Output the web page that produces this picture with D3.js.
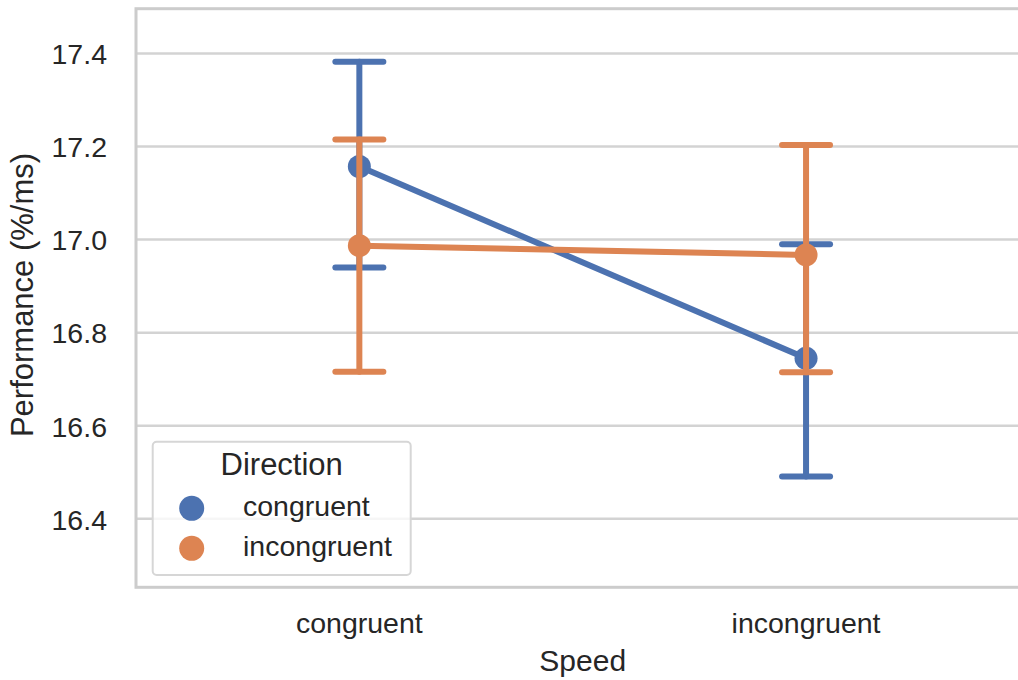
<!DOCTYPE html>
<html>
<head>
<meta charset="utf-8">
<script src="https://cdn.jsdelivr.net/npm/d3@7"></script>
<style>
  html, body { margin: 0; padding: 0; background: #fff; }
  svg { display: block; }
  text { font-family: "Liberation Sans", Arial, sans-serif; fill: #262626; }
</style>
</head>
<body>
<svg id="chart" width="1018" height="680"></svg>
<script>
// ---- data ----
const speedCategories = ["congruent", "incongruent"];
const directionLevels = ["congruent", "incongruent"];
const congruentMeans = [17.157, 16.745];
const congruentLow   = [16.940, 16.491];
const congruentHigh  = [17.382, 16.990];
const incongruentMeans = [16.987, 16.967];
const incongruentLow   = [16.716, 16.715];
const incongruentHigh  = [17.215, 17.203];
const yTickValues = [16.4, 16.6, 16.8, 17.0, 17.2, 17.4];
const yLimits = [16.253, 17.496];
const xLabel = "Speed";
const yLabel = "Performance (%/ms)";
const legendTitle = "Direction";
const palette = ["#4C72B0", "#DD8452"];

const series = [
  { name: directionLevels[0], means: congruentMeans, low: congruentLow, high: congruentHigh, color: palette[0] },
  { name: directionLevels[1], means: incongruentMeans, low: incongruentLow, high: incongruentHigh, color: palette[1] }
];

// ---- layout ----
const plot = { left: 136, top: 8.7, bottom: 587.3, right: 1029.4 };
const svg = d3.select("#chart");

const x = d3.scaleBand().domain(speedCategories).range([plot.left, plot.right]).padding(0);
const xc = c => x(c) + x.bandwidth() / 2;
const y = d3.scaleLinear().domain(yLimits).range([plot.bottom, plot.top]);

// grid
const gridG = svg.append("g");
gridG.selectAll("line").data(yTickValues).join("line")
  .attr("x1", plot.left).attr("x2", plot.right)
  .attr("y1", d => y(d)).attr("y2", d => y(d))
  .attr("stroke", "#d3d3d3").attr("stroke-width", 2.5);

// spines
svg.append("rect")
  .attr("x", plot.left).attr("y", plot.top)
  .attr("width", plot.right - plot.left).attr("height", plot.bottom - plot.top)
  .attr("fill", "none").attr("stroke", "#cccccc").attr("stroke-width", 3);

// y axis tick labels
const yAxis = d3.axisLeft(y).tickValues(yTickValues).tickSize(0).tickPadding(0).tickFormat(d3.format(".1f"));
const yAxisG = svg.append("g").attr("transform", `translate(${plot.left - 29},0)`).call(yAxis);
yAxisG.select(".domain").remove();
yAxisG.selectAll("text").attr("font-size", 28.5).attr("fill", "#262626")
  .attr("font-family", "Liberation Sans, Arial, sans-serif").attr("dy", "0.36em");

// x axis tick labels
const xAxis = d3.axisBottom(x).tickSize(0).tickPadding(0);
const xAxisG = svg.append("g").attr("transform", `translate(0,${plot.bottom})`).call(xAxis);
xAxisG.select(".domain").remove();
xAxisG.selectAll("text").attr("font-size", 28.5).attr("fill", "#262626")
  .attr("font-family", "Liberation Sans, Arial, sans-serif").attr("dy", null).attr("y", 46);

// axis labels
svg.append("text").attr("x", (plot.left + plot.right) / 2).attr("y", 671)
  .attr("text-anchor", "middle").attr("font-size", 30).text(xLabel);
svg.append("text").attr("transform", `translate(33,${(plot.top + plot.bottom) / 2 - 3}) rotate(-90)`)
  .attr("text-anchor", "middle").attr("font-size", 31).text(yLabel);

// series
const capHalf = 24;
const lineGen = d3.line().x(d => xc(d.cat)).y(d => y(d.v));
series.forEach(s => {
  const g = svg.append("g");
  const pts = speedCategories.map((c, i) => ({ cat: c, v: s.means[i], lo: s.low[i], hi: s.high[i] }));
  g.append("path").datum(pts).attr("d", lineGen)
    .attr("fill", "none").attr("stroke", s.color).attr("stroke-width", 6)
    .attr("stroke-linecap", "round").attr("stroke-linejoin", "round");
  pts.forEach(p => {
    const cx = xc(p.cat);
    g.append("line").attr("x1", cx).attr("x2", cx).attr("y1", y(p.lo)).attr("y2", y(p.hi))
      .attr("stroke", s.color).attr("stroke-width", 6).attr("stroke-linecap", "round");
    [p.lo, p.hi].forEach(v => {
      g.append("line").attr("x1", cx - capHalf).attr("x2", cx + capHalf).attr("y1", y(v)).attr("y2", y(v))
        .attr("stroke", s.color).attr("stroke-width", 6).attr("stroke-linecap", "round");
    });
  });
  g.selectAll("circle").data(pts).join("circle")
    .attr("cx", d => xc(d.cat)).attr("cy", d => y(d.v)).attr("r", 11.5)
    .attr("fill", s.color);
});

// legend
const lg = svg.append("g");
lg.append("rect").attr("x", 152.7).attr("y", 441.7).attr("width", 258).attr("height", 133.3)
  .attr("rx", 4).attr("fill", "#ffffff").attr("fill-opacity", 0.8)
  .attr("stroke", "#d6d6d6").attr("stroke-width", 2);
lg.append("text").attr("x", 281.7).attr("y", 475).attr("text-anchor", "middle")
  .attr("font-size", 31).text(legendTitle);
series.forEach((s, i) => {
  const cy = 508.3 + i * 40;
  lg.append("circle").attr("cx", 191.7).attr("cy", cy).attr("r", 12.5).attr("fill", s.color);
  lg.append("text").attr("x", 243).attr("y", cy + 7.5).attr("font-size", 28.5).text(s.name);
});
</script>
</body>
</html>
